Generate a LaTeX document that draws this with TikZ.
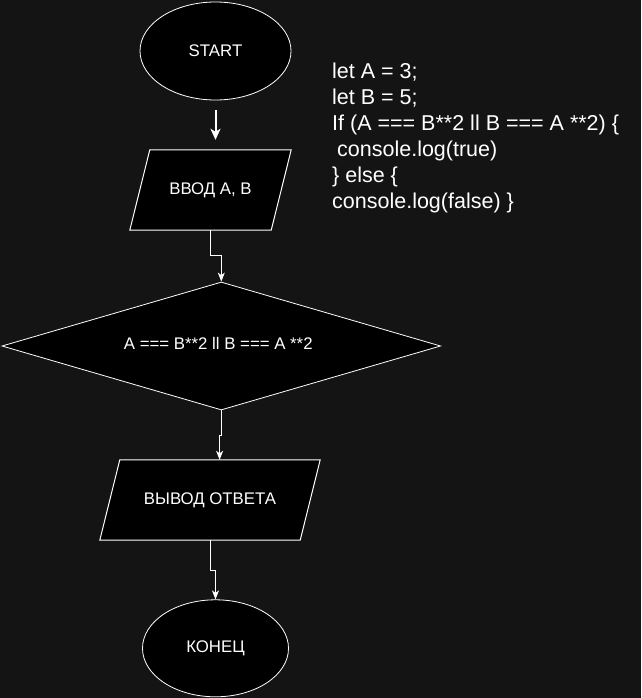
\documentclass[tikz,border=0pt]{standalone}
\usepackage{fontspec}
\setmainfont{Liberation Sans}
\usetikzlibrary{shapes.geometric,arrows.meta,calc}
\pgfdeclarelayer{bgpage}
\pgfdeclarelayer{bgshape}
\pgfsetlayers{bgpage,bgshape,main}
\definecolor{pagebg}{RGB}{20,20,20}
\tikzset{
  term/.style={ellipse, draw=white, fill=black, line width=0.8pt, minimum width=151pt, minimum height=98pt, inner sep=0pt, text=white, font=\fontsize{16.8}{20}\selectfont},
  iobox/.style={rectangle, draw=none, minimum width=220pt, minimum height=80pt, inner sep=0pt, text=white, font=\fontsize{16.8}{20}\selectfont},
  decision/.style={diamond, aspect=3.43, draw=white, fill=black, line width=0.8pt, minimum width=438.7pt, minimum height=128pt, inner sep=0pt, text=white, font=\fontsize{16.8}{20}\selectfont},
  ioshape/.style={draw=white, fill=black, line width=1pt},
  conn/.style={draw=white, line width=1pt, -{Stealth[length=9pt,width=7pt,inset=2.5pt]}},
  bigconn/.style={draw=white, line width=2pt, -{Stealth[length=11pt,width=10pt,inset=3pt]}},
  code/.style={anchor=base west, inner sep=0pt, align=left, text=white, font=\fontsize{21.5}{26}\selectfont}
}
\begin{document}
\begin{tikzpicture}[x=1pt,y=-1pt]
\begin{pgfonlayer}{bgpage}
\fill[pagebg] (0,0) rectangle (641,698);
\end{pgfonlayer}
\useasboundingbox (0,0) rectangle (641,698);

\node[term] (start) at (215.5,51) {START};
\node[iobox, minimum width=161pt] (in) at (210.5,190) {ВВОД А, В};
\node[decision] (dec) at (221.3,346) {\raisebox{6pt}{A === B**2 ll B === A **2}\hspace*{6pt}};
\node[iobox] (out) at (210,500) {ВЫВОД ОТВЕТА};
\node[term, minimum width=146pt, minimum height=97pt] (stop) at (215.5,648.3) {КОНЕЦ};

\begin{pgfonlayer}{bgshape}
\path[ioshape] ($(in.north west)+(20,0)$) -- (in.north east) -- ($(in.south east)+(-20,0)$) -- (in.south west) -- cycle;
\path[ioshape] ($(out.north west)+(20,0)$) -- (out.north east) -- ($(out.south east)+(-20,0)$) -- (out.south west) -- cycle;
\end{pgfonlayer}

\node[code] (prog) at (332,208) {let A = 3;\\let B = 5;\\If (A === B**2 ll B === A **2) \{\\\hspace*{5pt}console.log(true)\\\} else \{\\console.log(false) \}};

\draw[bigconn, shorten <=10pt, shorten >=10pt] (start.south) -- (start.south |- in.north);
\draw[conn] (in.south) -- ++(0,25) -| (dec.north);
\draw[conn] (dec.south) -- ++(0,25) -| ($(dec.south |- out.north)+(-1.7,0)$);
\draw[conn] (out.south) -- ++(0,30.7) -| (stop.north);
\end{tikzpicture}
\end{document}
